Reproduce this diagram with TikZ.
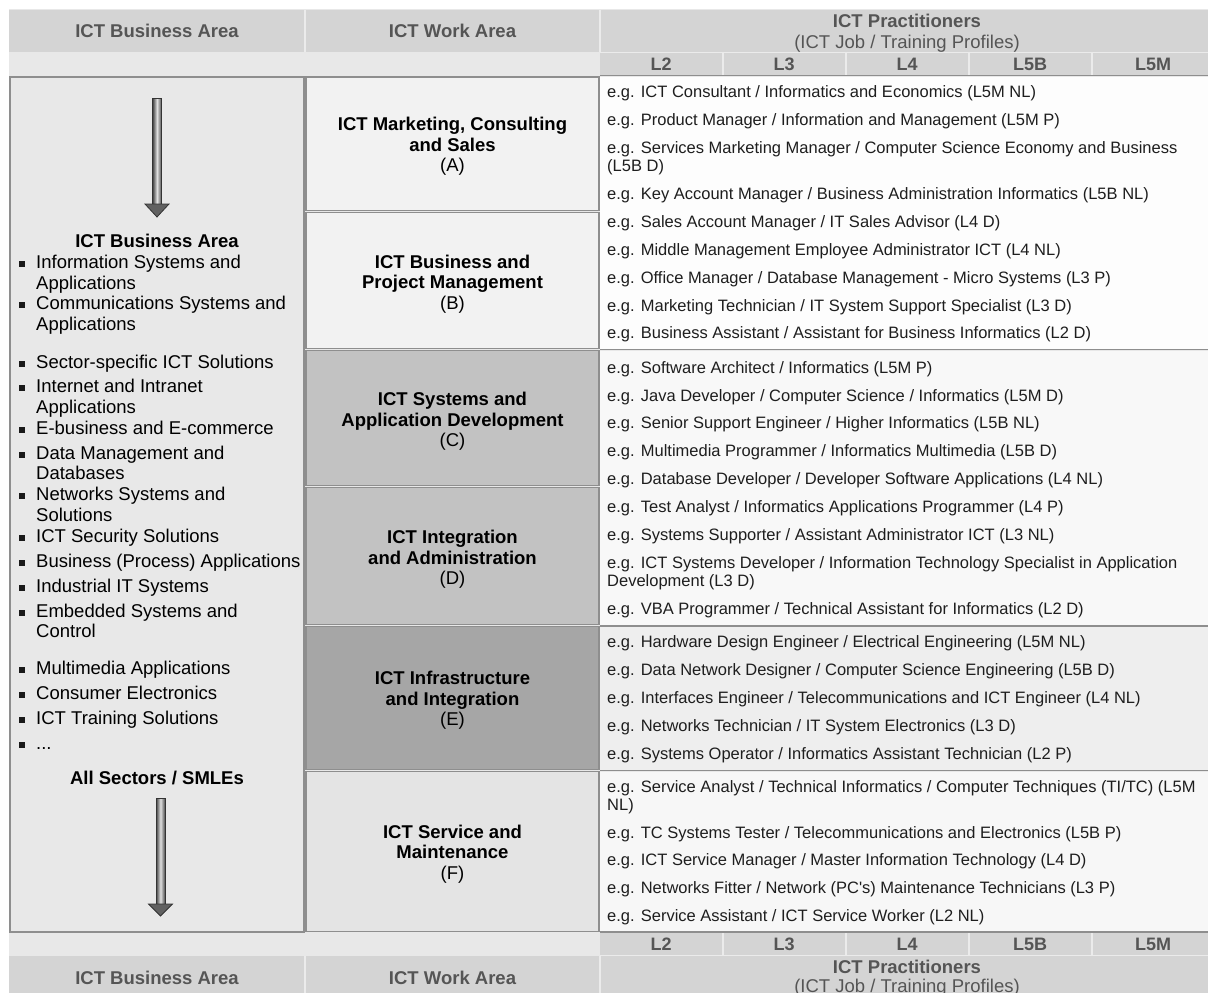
\documentclass[tikz,border=0pt]{standalone}
\usepackage{fontspec}
\setmainfont{Liberation Sans}

\definecolor{hdrfill}{HTML}{D4D4D4}
\definecolor{bandfill}{HTML}{E8E8E8}
\definecolor{hdrtext}{HTML}{555555}
\definecolor{framegray}{HTML}{8E8E8E}
\definecolor{boxAB}{HTML}{F2F2F2}
\definecolor{boxCD}{HTML}{C2C2C2}
\definecolor{boxE}{HTML}{A6A6A6}
\definecolor{boxF}{HTML}{E4E4E4}
\definecolor{rowAB}{HTML}{FDFDFD}
\definecolor{rowCD}{HTML}{F8F8F8}
\definecolor{rowE}{HTML}{EEEEEE}
\definecolor{rowF}{HTML}{F7F7F7}
\definecolor{jobink}{HTML}{1E1E1E}

\tikzset{
  hdrlabel/.style={font=\fontsize{18.5}{20}\selectfont\bfseries, text=hdrtext, inner sep=0pt, anchor=base},
  hdrsub/.style={font=\fontsize{18.5}{20}\selectfont, text=hdrtext, inner sep=0pt, anchor=base},
  lvllabel/.style={font=\fontsize{18}{20}\selectfont\bfseries, text=hdrtext, inner sep=0pt, anchor=base},
  jobtext/.style={font=\fontsize{16.5}{18}\selectfont, text=jobink, inner sep=0pt, anchor=base west},
  arealabel/.style={font=\fontsize{18.5}{20.5}\selectfont, align=center, inner sep=0pt},
  listtext/.style={font=\fontsize{18.5}{21}\selectfont, inner sep=0pt, anchor=base west},
  listhead/.style={font=\fontsize{18.5}{21}\selectfont\bfseries, inner sep=0pt, anchor=base},
  listmark/.style={fill=black!90, inner sep=0pt, minimum size=6pt},
  boxframe/.style={draw=framegray, line width=1.6pt},
  sepline/.style={draw=white!92!black, line width=1.4pt},
  arrowshaft/.style={left color=black!75, right color=black!70, middle color=black!12, draw=black!80, line width=0.8pt},
  arrowhead/.style={fill=black!62, draw=black!80, line width=0.8pt, line join=miter},
}

% one job/training profile line on the right, y = visual centre of the line
\newcommand\jobrow[3]{\node[jobtext] (#1) at (607,#2+5.9) {#3};}
% one line of the business-area list, with or without a square bullet
\newcommand\listrow[3]{\node[listtext] (#1) at (36,#2+6.6) {#3};}
\newcommand\listbullet[3]{\node[listmark] (#1m) at (22,#2+1.5) {};\listrow{#1}{#2}{#3}}

\begin{document}
\begin{tikzpicture}[x=1pt,y=-1pt]
\useasboundingbox (0,0) rectangle (1208,993);
\clip (0,0) rectangle (1208,993);
\fill[white] (0,0) rectangle (1208,993);
\fill[bandfill] (9,9) rectangle (1208,993);

% ---------- top header ----------
\fill[hdrfill] (9,10) rectangle (1214,52);
\fill[hdrfill] (600,53) rectangle (1214,75);
\draw[sepline] (305,10) -- (305,52);
\draw[sepline] (600,10) -- (600,52);
\draw[sepline] (600,52.5) -- (1214,52.5);
\foreach \xx in {723,846,969,1092} \draw[sepline] (\xx,53) -- (\xx,75);
\draw[framegray, line width=1.4pt] (600,75.5) -- (1214,75.5);

\node[hdrlabel] (hBA) at (157,37.5) {ICT Business Area};
\node[hdrlabel] (hWA) at (452.5,37.5) {ICT Work Area};
\node[hdrlabel] (hPR) at (907,27.5) {ICT Practitioners};
\node[hdrsub]   (hJT) at (907,48.5) {(ICT Job / Training Profiles)};
\node[lvllabel] (tL2)  at (661,70.5) {L2};
\node[lvllabel] (tL3)  at (784,70.5) {L3};
\node[lvllabel] (tL4)  at (907,70.5) {L4};
\node[lvllabel] (tL5B) at (1030,70.5) {L5B};
\node[lvllabel] (tL5M) at (1153,70.5) {L5M};

% ---------- right column groups ----------
\fill[rowAB] (600,76.5) rectangle (1214,348.5);
\fill[rowCD] (600,350.5) rectangle (1214,625);
\fill[rowE]  (600,627)   rectangle (1214,769.5);
\fill[rowF]  (600,771.5) rectangle (1214,931);
\draw[framegray, line width=1.4pt] (600,349.5) -- (1214,349.5);
\draw[framegray, line width=1.4pt] (600,626) -- (1214,626);
\draw[framegray, line width=1.4pt] (600,770.5) -- (1214,770.5);
\draw[framegray, line width=1.4pt] (600,932) -- (1214,932);

% ---------- business area column ----------
\draw[boxframe, fill=bandfill] (10,77) rectangle (304,932);

% ---------- work area boxes ----------
\draw[boxframe, fill=boxAB] (306,77)  rectangle (599,210.5);
\draw[boxframe, fill=boxAB] (306,212.5) rectangle (599,348.5);
\draw[boxframe, fill=boxCD] (306,350.5) rectangle (599,485.5);
\draw[boxframe, fill=boxCD] (306,487.5) rectangle (599,624.5);
\draw[boxframe, fill=boxE]  (306,626.5) rectangle (599,769.5);
\draw[boxframe, fill=boxF]  (306,771.5) rectangle (599,931.5);

\node[arealabel] (wA) at (452.5,146.3) {\textbf{ICT Marketing, Consulting}\\\textbf{and Sales}\\(A)};
\node[arealabel] (wB) at (452.5,283.8) {\textbf{ICT Business and}\\\textbf{Project Management}\\(B)};
\node[arealabel] (wC) at (452.5,421.3) {\textbf{ICT Systems and}\\\textbf{Application Development}\\(C)};
\node[arealabel] (wD) at (452.5,559.3) {\textbf{ICT Integration}\\\textbf{and Administration}\\(D)};
\node[arealabel] (wE) at (452.5,700.3) {\textbf{ICT Infrastructure}\\\textbf{and Integration}\\(E)};
\node[arealabel] (wF) at (452.5,853.8) {\textbf{ICT Service and}\\\textbf{Maintenance}\\(F)};

% ---------- job / training profiles ----------
\jobrow{j01}{92}{e.g. ICT Consultant / Informatics and Economics (L5M NL)}
\jobrow{j02}{120}{e.g. Product Manager / Information and Management (L5M P)}
\jobrow{j03}{148}{e.g. Services Marketing Manager / Computer Science Economy and Business}
\jobrow{j03b}{166}{(L5B D)}
\jobrow{j04}{194}{e.g. Key Account Manager / Business Administration Informatics (L5B NL)}
\jobrow{j05}{222}{e.g. Sales Account Manager / IT Sales Advisor (L4 D)}
\jobrow{j06}{250}{e.g. Middle Management Employee Administrator ICT (L4 NL)}
\jobrow{j07}{278}{e.g. Office Manager / Database Management - Micro Systems (L3 P)}
\jobrow{j08}{306}{e.g. Marketing Technician / IT System Support Specialist (L3 D)}
\jobrow{j09}{333}{e.g. Business Assistant / Assistant for Business Informatics (L2 D)}
\jobrow{j10}{368}{e.g. Software Architect / Informatics (L5M P)}
\jobrow{j11}{396}{e.g. Java Developer / Computer Science / Informatics (L5M D)}
\jobrow{j12}{423}{e.g. Senior Support Engineer / Higher Informatics (L5B NL)}
\jobrow{j13}{451}{e.g. Multimedia Programmer / Informatics Multimedia (L5B D)}
\jobrow{j14}{479}{e.g. Database Developer / Developer Software Applications (L4 NL)}
\jobrow{j15}{507}{e.g. Test Analyst / Informatics Applications Programmer (L4 P)}
\jobrow{j16}{535}{e.g. Systems Supporter / Assistant Administrator ICT (L3 NL)}
\jobrow{j17}{563}{e.g. ICT Systems Developer / Information Technology Specialist in Application}
\jobrow{j17b}{581}{Development (L3 D)}
\jobrow{j18}{609}{e.g. VBA Programmer / Technical Assistant for Informatics (L2 D)}
\jobrow{j19}{642}{e.g. Hardware Design Engineer / Electrical Engineering (L5M NL)}
\jobrow{j20}{670}{e.g. Data Network Designer / Computer Science Engineering (L5B D)}
\jobrow{j21}{698}{e.g. Interfaces Engineer / Telecommunications and ICT Engineer (L4 NL)}
\jobrow{j22}{726}{e.g. Networks Technician / IT System Electronics (L3 D)}
\jobrow{j23}{754}{e.g. Systems Operator / Informatics Assistant Technician (L2 P)}
\jobrow{j24}{787}{e.g. Service Analyst / Technical Informatics / Computer Techniques (TI/TC) (L5M}
\jobrow{j24b}{805}{NL)}
\jobrow{j25}{833}{e.g. TC Systems Tester / Telecommunications and Electronics (L5B P)}
\jobrow{j26}{860}{e.g. ICT Service Manager / Master Information Technology (L4 D)}
\jobrow{j27}{888}{e.g. Networks Fitter / Network (PC\textquotesingle s) Maintenance Technicians (L3 P)}
\jobrow{j28}{916}{e.g. Service Assistant / ICT Service Worker (L2 NL)}

% ---------- business area list ----------
\coordinate (arrAtop) at (157,98);
\coordinate (arrAtip) at (157,217);
\shade[arrowshaft] (152.5,98) rectangle (161.5,204.5);
\draw[arrowhead] (145,204) -- (169,204) -- (arrAtip) -- cycle;

\node[listhead] (lhead) at (157,247.6) {ICT Business Area};
\listbullet{l01}{262}{Information Systems and}
\listrow{l01b}{283}{Applications}
\listbullet{l02}{303}{Communications Systems and}
\listrow{l02b}{324}{Applications}
\listbullet{l03}{362}{Sector-specific ICT Solutions}
\listbullet{l04}{386}{Internet and Intranet}
\listrow{l04b}{407}{Applications}
\listbullet{l05}{428}{E-business and E-commerce}
\listbullet{l06}{453}{Data Management and}
\listrow{l06b}{473}{Databases}
\listbullet{l07}{494}{Networks Systems and}
\listrow{l07b}{515}{Solutions}
\listbullet{l08}{536}{ICT Security Solutions}
\listbullet{l09}{561}{Business (Process) Applications}
\listbullet{l10}{586}{Industrial IT Systems}
\listbullet{l11}{611}{Embedded Systems and}
\listrow{l11b}{631}{Control}
\listbullet{l12}{668}{Multimedia Applications}
\listbullet{l13}{693}{Consumer Electronics}
\listbullet{l14}{718}{ICT Training Solutions}
\listbullet{l15}{743}{...}
\node[listhead] (lfoot) at (157,784.6) {All Sectors / SMLEs};

\coordinate (arrBtop) at (160.5,798);
\coordinate (arrBtip) at (160.5,916);
\shade[arrowshaft] (156,798) rectangle (165,904.5);
\draw[arrowhead] (148.5,904) -- (172.5,904) -- (arrBtip) -- cycle;

% ---------- bottom header ----------
\fill[hdrfill] (600,933) rectangle (1214,955);
\fill[hdrfill] (9,956) rectangle (1214,1000);
\foreach \xx in {723,846,969,1092} \draw[sepline] (\xx,933) -- (\xx,955);
\draw[sepline] (600,955.5) -- (1214,955.5);
\draw[sepline] (305,956) -- (305,1000);
\draw[sepline] (600,956) -- (600,1000);

\node[lvllabel] (bL2)  at (661,950.5) {L2};
\node[lvllabel] (bL3)  at (784,950.5) {L3};
\node[lvllabel] (bL4)  at (907,950.5) {L4};
\node[lvllabel] (bL5B) at (1030,950.5) {L5B};
\node[lvllabel] (bL5M) at (1153,950.5) {L5M};
\node[hdrlabel] (bBA) at (157,984.5) {ICT Business Area};
\node[hdrlabel] (bWA) at (452.5,984.5) {ICT Work Area};
\node[hdrlabel] (bPR) at (907,973.5) {ICT Practitioners};
\node[hdrsub]   (bJT) at (907,992.5) {(ICT Job / Training Profiles)};
\end{tikzpicture}
\end{document}
